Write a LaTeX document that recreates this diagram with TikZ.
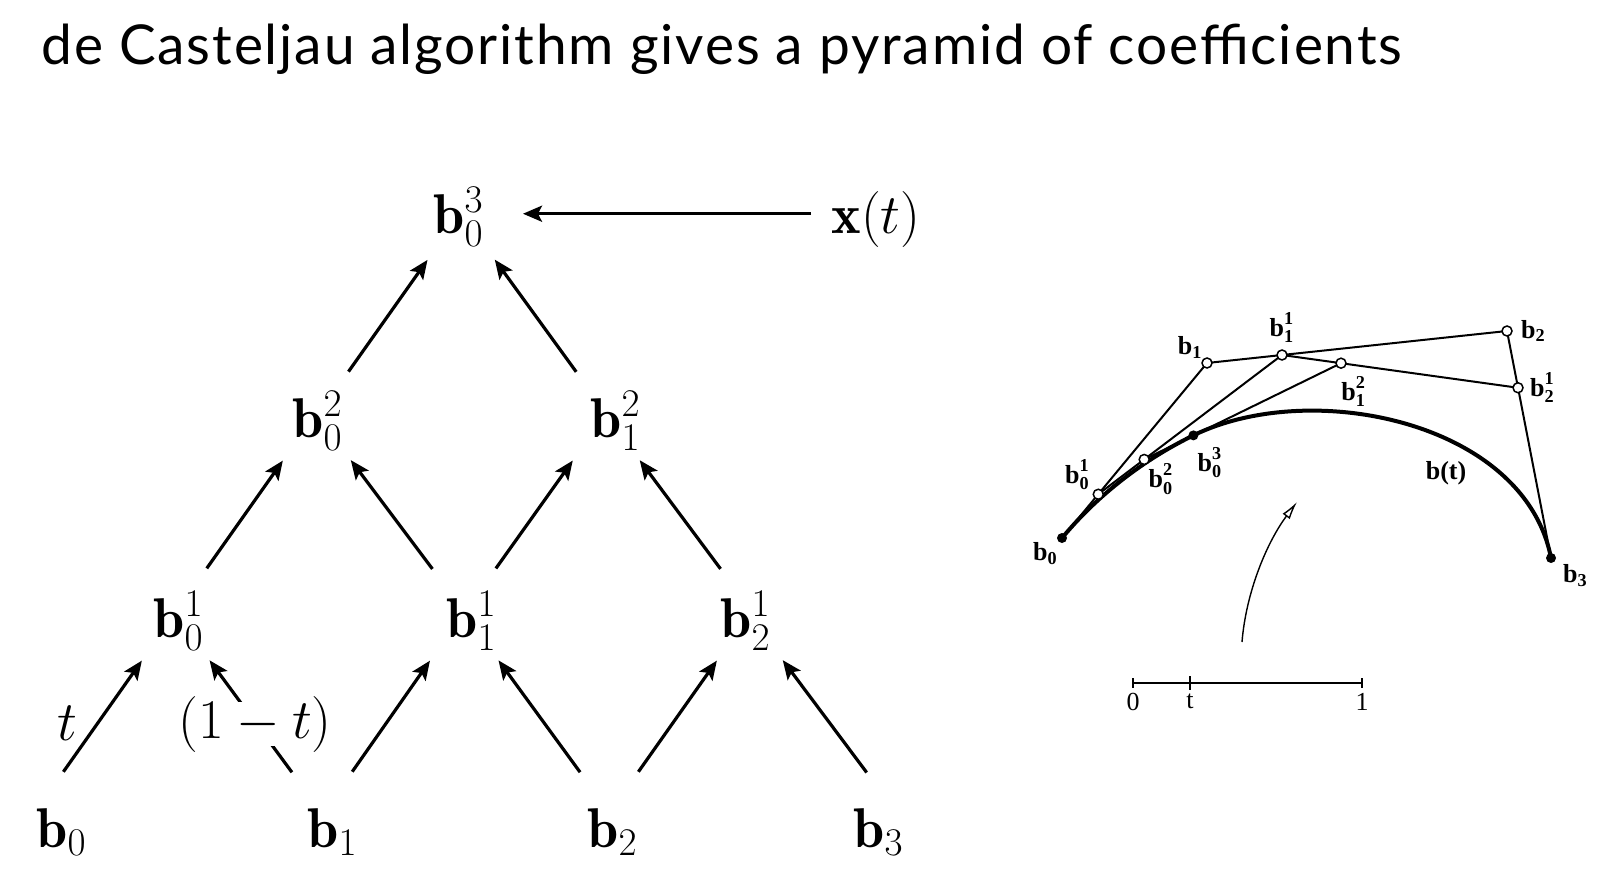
\RequirePackage{fix-cm}
\documentclass[tikz,border=0pt]{standalone}
\usepackage{amsmath}
\usepackage{fontspec}
\newfontfamily\titlefont{Lato}[LetterSpace=3.4]
\newfontfamily\figfont{Liberation Serif}
\usepackage{tikz}
\usetikzlibrary{arrows.meta, positioning, calc}

% only the letter b counts for the node box, the indices hang over
\newcommand{\bcoef}[1]{\rlap{\smash{$#1$}}\phantom{$\mathbf{b}$}}

\begin{document}
\begin{tikzpicture}[
  x=0.5pt, y=-0.5pt,
  coef/.style={inner sep=0pt, anchor=base, font=\fontsize{28}{34}\selectfont},
  weight/.style={inner sep=0pt, anchor=base, font=\fontsize{28}{34}\selectfont},
  arrow/.style={-{Stealth[length=9.5pt,width=8pt,inset=2pt]}, line width=1.6pt,
                shorten <=18pt, shorten >=14pt},
  lbl/.style={inner sep=0pt, font=\figfont\bfseries\fontsize{13}{15}\selectfont},
  num/.style={inner sep=0pt, font=\figfont\fontsize{13}{15}\selectfont},
  poly/.style={line width=1pt},
  curve/.style={line width=2pt},
  odot/.style={circle, draw, line width=0.75pt, fill=white, inner sep=0pt, minimum size=5pt},
  fdot/.style={circle, fill, inner sep=0pt, minimum size=5pt}
]
\useasboundingbox (0,0) rectangle (1621,878);

\node[anchor=base west, inner sep=0pt, font=\titlefont\fontsize{27.5}{32}\selectfont] (title)
  at (41,64) {de Casteljau algorithm gives a pyramid of coefficients};

% pyramid
\node[coef] (b0) at (52,847) {\bcoef{\mathbf{b}_0}};
\node[coef] (b1) at (323,847) {\bcoef{\mathbf{b}_1}};
\node[coef] (b2) at (603,847) {\bcoef{\mathbf{b}_2}};
\node[coef] (b3) at (869,847) {\bcoef{\mathbf{b}_3}};
\node[coef] (b01) at (169,637) {\bcoef{\mathbf{b}_0^1}};
\node[coef] (b11) at (462,637) {\bcoef{\mathbf{b}_1^1}};
\node[coef] (b21) at (736,637) {\bcoef{\mathbf{b}_2^1}};
\node[coef] (b02) at (308,437) {\bcoef{\mathbf{b}_0^2}};
\node[coef] (b12) at (606,437) {\bcoef{\mathbf{b}_1^2}};
\node[coef] (b03) at (449,233) {\bcoef{\mathbf{b}_0^3}};
\node[coef] (xt) at (876,233) {$\mathbf{x}(t)$};

\draw[arrow, shorten <=22pt] ($(b0.north)+(-14,0)$) -- ($(b01.south)+(-11,0)$);
\draw[arrow, shorten <=22pt] ($(b1.north)+(-5,0)$) -- ($(b01.south)+(24,0)$);
\draw[arrow, shorten <=22pt] ($(b1.north)+(4,0)$) -- ($(b11.south)+(-16,0)$);
\draw[arrow, shorten <=22pt] ($(b2.north)+(3,0)$) -- ($(b11.south)+(20,0)$);
\draw[arrow, shorten <=22pt] ($(b2.north)+(10,0)$) -- ($(b21.south)+(-3,0)$);
\draw[arrow, shorten <=22pt] ($(b3.north)+(24,0)$) -- ($(b21.south)+(30,0)$);
\draw[arrow] ($(b01.north)+(17,0)$) -- ($(b02.south)+(-9,0)$);
\draw[arrow] ($(b11.north)+(-8,0)$) -- ($(b02.south)+(26,0)$);
\draw[arrow] ($(b11.north)+(13,0)$) -- ($(b12.south)+(-17,0)$);
\draw[arrow] ($(b21.north)+(6,0)$) -- ($(b12.south)+(17,0)$);
\draw[arrow, shorten <=16pt, shorten >=16pt] ($(b02.north)+(22,0)$) -- ($(b03.south)+(-3,0)$);
\draw[arrow, shorten <=16pt, shorten >=16pt] ($(b12.north)+(-11,0)$) -- ($(b03.south)+(27,0)$);
\draw[arrow, shorten <=10pt, shorten >=29pt] (b03 -| xt.west) -- (b03.east);

\node[weight] (wt) at (67,740) {$t$};
\node[weight, fill=white, inner ysep=-3pt] (wone) at (255,738) {$(1-t)$};

% curve with the construction
\coordinate (p0) at (1062,538);
\coordinate (p1) at (1207,363);
\coordinate (p2) at (1507,331);
\coordinate (p3) at (1551,558);
\coordinate (p01) at ($(p0)!0.25!(p1)$);
\coordinate (p11) at ($(p1)!0.25!(p2)$);
\coordinate (p21) at ($(p2)!0.25!(p3)$);
\coordinate (p02) at ($(p01)!0.25!(p11)$);
\coordinate (p12) at ($(p11)!0.25!(p21)$);
\coordinate (p03) at ($(p02)!0.25!(p12)$);

\draw[poly] (p0) -- (p1) -- (p2) -- (p3);
\draw[poly] (p01) -- (p11) -- (p21);
\draw[poly] (p02) -- (p12);
\draw[curve] (p0) .. controls (p01) and (p02) .. (p03)
  .. controls ($(p03)!0.8!(p12)$) and ($(p3)!0.8!(p21)$) .. (p3);

\node[fdot] (d0) at (p0) {};
\node[odot] (d1) at (p1) {};
\node[odot] (d2) at (p2) {};
\node[fdot] (d3) at (p3) {};
\node[odot] (d01) at (p01) {};
\node[odot] (d11) at (p11) {};
\node[odot] (d21) at (p21) {};
\node[odot] (d02) at (p02) {};
\node[odot] (d12) at (p12) {};
\node[fdot] (d03) at (p03) {};

\node[lbl, anchor=north east] (l0) at (d0.south west) {$\text{b}_{\text{0}}$};
\node[lbl, anchor=south east] (l1) at (d1.north west) {$\text{b}_{\text{1}}$};
\node[lbl, right=4pt of d2] (l2) {$\text{b}_{\text{2}}$};
\node[lbl, below right=1pt and 4pt of d3] (l3) {$\text{b}_{\text{3}}$};
\node[lbl, above left=0pt and 2pt of d01] (l01) {$\text{b}_{\text{0}}^{\text{1}}$};
\node[lbl, above=3pt of d11] (l11) {$\text{b}_{\text{1}}^{\text{1}}$};
\node[lbl, right=3pt of d21] (l21) {$\text{b}_{\text{2}}^{\text{1}}$};
\node[lbl, below right=0pt of d02] (l02) {$\text{b}_{\text{0}}^{\text{2}}$};
\node[lbl, below right=4.5pt and -2pt of d12] (l12) {$\text{b}_{\text{1}}^{\text{2}}$};
\node[lbl, below right=4pt and 0pt of d03] (l03) {$\text{b}_{\text{0}}^{\text{3}}$};
\node[lbl] (bt) at (1446,473) {b(t)};

% parameter line
\coordinate (s0) at (1133,683);
\coordinate (st) at (1190,683);
\coordinate (s1) at (1362,683);
\coordinate (ta) at (1242,642);
\coordinate (tb) at (1297,502);
\draw[line width=1pt] (s0) -- (s1);
\draw[line width=0.8pt] (s0) ++(0,-5) -- ++(0,10);
\draw[line width=0.8pt] (s1) ++(0,-5) -- ++(0,10);
\draw[line width=1.3pt] (st) ++(0,-7) -- ++(0,14);
\node[num, below=5pt of s0] (n0) {0};
\node[num, below=5pt of st] (nt) {t};
\node[num, below=5pt of s1] (n1) {1};
\draw[line width=0.7pt, -{Latex[open,length=9pt,width=4.5pt]}] (ta) .. controls +(4,-50) and +(-30,40) .. (tb);
\end{tikzpicture}
\end{document}
